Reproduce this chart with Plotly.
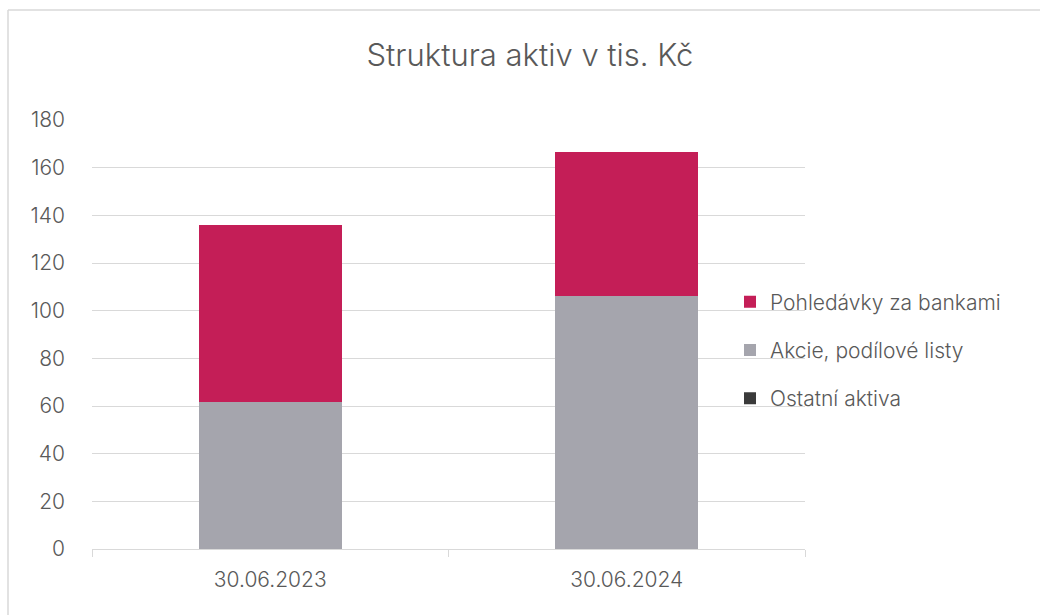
import plotly.graph_objects as go

categories = ["30.06.2023", "30.06.2024"]
akcie = [61.5, 106.0]
pohledavky = [74.5, 60.5]
ostatni = [0.0, 0.0]
series_names = ["Pohledávky za bankami", "Akcie, podílové listy", "Ostatní aktiva"]
colors = ["#C41E57", "#A5A5AD", "#3A3A3A"]
y_ticks = [0, 20, 40, 60, 80, 100, 120, 140, 160, 180]

L, R, T, B = 92, 235, 120, 66
W, H = 1040, 615
pw = W - L - R
ph = H - T - B

fig = go.Figure()
fig.add_trace(go.Bar(x=categories, y=akcie, name=series_names[1], marker_color=colors[1],
                     marker_line_width=0, legendrank=2, legendgroup="b"))
fig.add_trace(go.Bar(x=categories, y=pohledavky, name=series_names[0], marker_color=colors[0],
                     marker_line_width=0, legendrank=1, legendgroup="a"))
fig.add_trace(go.Bar(x=categories, y=ostatni, name=series_names[2], marker_color=colors[2],
                     marker_line_width=0, legendrank=3, legendgroup="c"))

font_family = "Inter, Lato, sans-serif"
fig.update_layout(
    width=W, height=H,
    margin=dict(l=L, r=R, t=T, b=B, autoexpand=False),
    barmode="stack", bargap=0.6,
    paper_bgcolor="white", plot_bgcolor="white",
    font=dict(family=font_family, color="#595959", size=21, weight=300),
    title=dict(text="Struktura aktiv v tis. Kč", x=(530) / W, xanchor="center",
               y=1 - 55 / H, yanchor="middle",
               font=dict(size=31, color="#595959", weight=300)),
    showlegend=True,
    legend=dict(x=(730 - L) / pw, xanchor="left", y=(549 - 350) / ph, yanchor="middle",
                traceorder="grouped", tracegroupgap=18,
                font=dict(size=21, color="#595959", weight=300),
                bgcolor="rgba(0,0,0,0)"),
    xaxis=dict(showgrid=False, showline=True, linecolor="#D9D9D9", linewidth=1,
               ticks="outside", tickson="boundaries", ticklen=7, tickcolor="#D9D9D9",
               tickfont=dict(size=21, color="#595959", weight=300), ticklabelstandoff=12),
    yaxis=dict(range=[0, 180], tickvals=y_ticks, showgrid=True, gridcolor="#D9D9D9",
               gridwidth=1, zeroline=False, showline=False, ticks="",
               tickfont=dict(size=21, color="#595959", weight=300), ticklabelstandoff=26),
)

bx = (8 - L) / pw
by = (549 - 10) / ph
fig.add_shape(type="line", xref="paper", yref="paper", x0=bx, x1=bx, y0=by, y1=-0.3,
              line=dict(color="#D9D9D9", width=1.5))
fig.add_shape(type="line", xref="paper", yref="paper", x0=bx, x1=1.5, y0=by, y1=by,
              line=dict(color="#D9D9D9", width=1.5))

fig.write_html("out.html")
